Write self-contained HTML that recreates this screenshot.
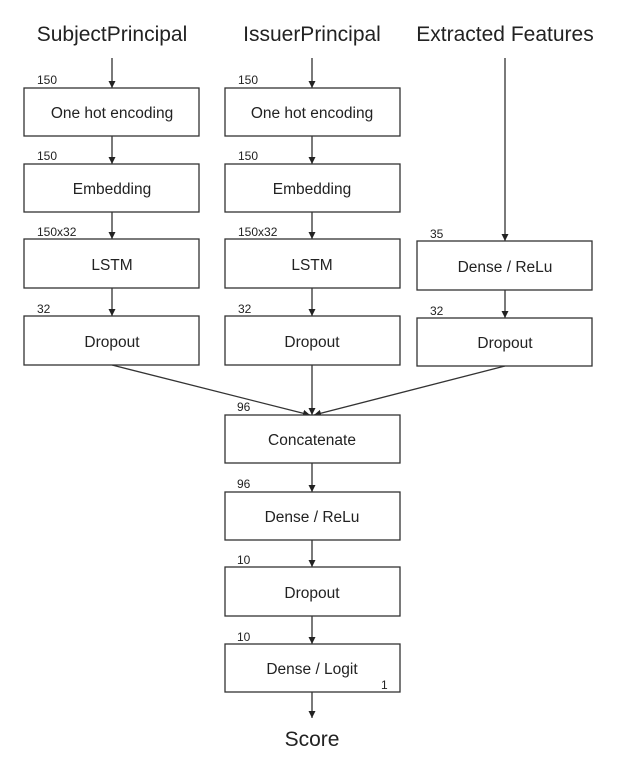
<!DOCTYPE html>
<html><head><style>body{margin:0;background:#fff}</style></head><body>
<svg width="622" height="760" xmlns="http://www.w3.org/2000/svg" font-family="Liberation Sans, sans-serif">
<defs><marker id="a" markerWidth="8" markerHeight="8" refX="7" refY="4" orient="auto" markerUnits="userSpaceOnUse"><path d="M0,0.5 L7,4 L0,7.5z" fill="#222"/></marker></defs>
<g fill="#222" font-size="21" text-anchor="middle">
<text x="112" y="41">SubjectPrincipal</text>
<text x="312" y="41">IssuerPrincipal</text>
<text x="505" y="41">Extracted Features</text>
<text x="312" y="746">Score</text>
</g>
<g stroke="#333" stroke-width="1.3" fill="none" marker-end="url(#a)">
<line x1="112" y1="58" x2="112" y2="88"/><line x1="112" y1="136" x2="112" y2="164"/><line x1="112" y1="212" x2="112" y2="239"/><line x1="112" y1="288" x2="112" y2="316"/>
<line x1="312" y1="58" x2="312" y2="88"/><line x1="312" y1="136" x2="312" y2="164"/><line x1="312" y1="212" x2="312" y2="239"/><line x1="312" y1="288" x2="312" y2="316"/>
<line x1="505" y1="58" x2="505" y2="241"/><line x1="505" y1="290" x2="505" y2="318"/>
<line x1="112" y1="365" x2="310" y2="415"/><line x1="312" y1="365" x2="312" y2="415"/><line x1="505" y1="366" x2="314" y2="415"/>
<line x1="312" y1="463" x2="312" y2="492"/><line x1="312" y1="540" x2="312" y2="567"/><line x1="312" y1="616" x2="312" y2="644"/><line x1="312" y1="692" x2="312" y2="718"/>
</g>
<g stroke="#333" stroke-width="1.3" fill="#fff">
<rect x="24" y="88" width="175" height="48"/><rect x="24" y="164" width="175" height="48"/><rect x="24" y="239" width="175" height="49"/><rect x="24" y="316" width="175" height="49"/>
<rect x="225" y="88" width="175" height="48"/><rect x="225" y="164" width="175" height="48"/><rect x="225" y="239" width="175" height="49"/><rect x="225" y="316" width="175" height="49"/>
<rect x="417" y="241" width="175" height="49"/><rect x="417" y="318" width="175" height="48"/>
<rect x="225" y="415" width="175" height="48"/><rect x="225" y="492" width="175" height="48"/><rect x="225" y="567" width="175" height="49"/><rect x="225" y="644" width="175" height="48"/>
</g>
<g fill="#222" font-size="15.5" text-anchor="middle">
<text x="112" y="118">One hot encoding</text><text x="112" y="194">Embedding</text><text x="112" y="270">LSTM</text><text x="112" y="347">Dropout</text>
<text x="312" y="118">One hot encoding</text><text x="312" y="194">Embedding</text><text x="312" y="270">LSTM</text><text x="312" y="347">Dropout</text>
<text x="505" y="272">Dense / ReLu</text><text x="505" y="348">Dropout</text>
<text x="312" y="445">Concatenate</text><text x="312" y="522">Dense / ReLu</text><text x="312" y="598">Dropout</text><text x="312" y="674">Dense / Logit</text>
</g>
<g fill="#222" font-size="12">
<text x="37" y="84">150</text><text x="37" y="160">150</text><text x="37" y="236">150x32</text><text x="37" y="313">32</text>
<text x="238" y="84">150</text><text x="238" y="160">150</text><text x="238" y="236">150x32</text><text x="238" y="313">32</text>
<text x="430" y="238">35</text><text x="430" y="315">32</text>
<text x="237" y="411">96</text><text x="237" y="488">96</text><text x="237" y="564">10</text><text x="237" y="641">10</text>
<text x="381" y="689">1</text>
</g>
</svg>
</body></html>
